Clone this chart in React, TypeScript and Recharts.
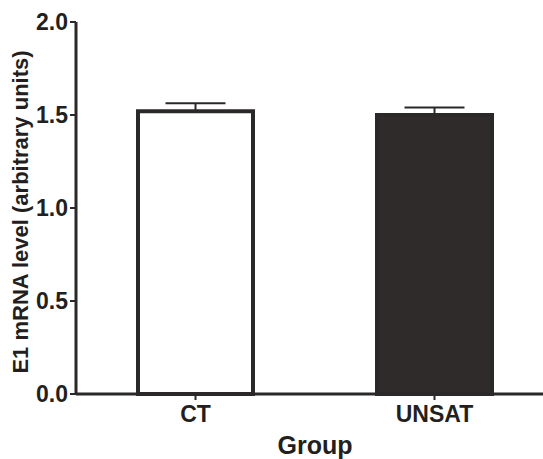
import React from 'react';
import { BarChart, Bar, XAxis, YAxis, ErrorBar, Cell, Label } from 'recharts';

const groups = ['CT', 'UNSAT'];
const means = [1.52, 1.5];
const semUpper = [0.043, 0.04];
const fills = ['#ffffff', '#2f2b2b'];
const yTicks = [0, 0.5, 1.0, 1.5, 2.0];

const data = groups.map((g, i) => ({ group: g, value: means[i], err: [0, semUpper[i]] }));

const INK = '#2b2829';
const FONT = '"Liberation Sans", Arial, Helvetica, sans-serif';

const YLabel = (props: any) => {
  const vb = props.viewBox || {};
  const x = vb.x + 28;
  const y = vb.y + vb.height / 2 + 4;
  return (
    <text
      x={x}
      y={y}
      transform={`rotate(-90, ${x}, ${y})`}
      textAnchor="middle"
      fontFamily={FONT}
      fontWeight="bold"
      fontSize={22}
      fill="#231f20"
    >
      E1 mRNA level (arbitrary units)
    </text>
  );
};

export default function App() {
  return (
    <div style={{ position: 'absolute', left: 0, top: 0, width: 543, height: 459, overflow: 'hidden', background: '#fff' }}>
      <BarChart
        width={556}
        height={459}
        data={data}
        margin={{ top: 22, right: 2, bottom: 0, left: 0 }}
        barSize={115}
      >
        <XAxis
          dataKey="group"
          height={65}
          axisLine={{ stroke: INK, strokeWidth: 3 }}
          tickLine={{ stroke: INK, strokeWidth: 2 }}
          tickSize={6}
          tickMargin={6}
          tick={{ fill: '#231f20', fontFamily: FONT, fontWeight: 'bold', fontSize: 23 }}
        >
          <Label
            value="Group"
            position="insideBottom"
            offset={5}
            style={{ fill: '#231f20', fontFamily: FONT, fontWeight: 'bold', fontSize: 25 }}
          />
        </XAxis>
        <YAxis
          domain={[0, 2]}
          ticks={yTicks}
          interval={0}
          width={76}
          axisLine={{ stroke: INK, strokeWidth: 3 }}
          tickLine={{ stroke: INK, strokeWidth: 2 }}
          tickSize={6}
          tickMargin={2}
          tickFormatter={(v: number) => v.toFixed(1)}
          tick={{ fill: '#231f20', fontFamily: FONT, fontWeight: 'bold', fontSize: 23 }}
          label={{ content: YLabel }}
        />
        <Bar dataKey="value" stroke={INK} strokeWidth={4} isAnimationActive={false}>
          {data.map((d, i) => (
            <Cell key={d.group} fill={fills[i]} />
          ))}
          <ErrorBar dataKey="err" width={30} stroke={INK} strokeWidth={2} direction="y" isAnimationActive={false} />
        </Bar>
      </BarChart>
    </div>
  );
}
